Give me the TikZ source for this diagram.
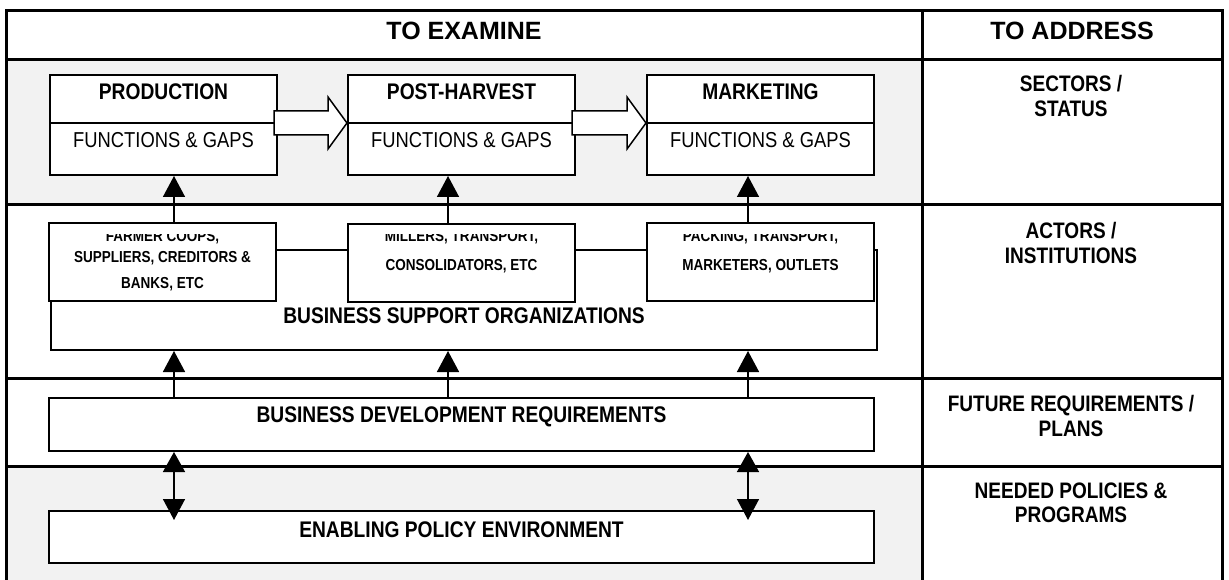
\documentclass[tikz,border=0pt]{standalone}
\usepackage{fontspec}
\setmainfont{Liberation Sans}[FakeStretch=0.85]
\newfontfamily\headfont{Liberation Sans}
\usetikzlibrary{arrows.meta,calc}
\definecolor{rowgray}{HTML}{F2F2F2}

\begin{document}
\begin{tikzpicture}[x=1pt,y=-1pt,
        frame/.style={line width=3pt},
        plainbox/.style={draw,fill=white,line width=2pt,inner sep=0pt},
        stagebox/.style={plainbox,minimum width=227pt,minimum height=100pt},
        actorbox/.style={plainbox,minimum width=227pt,minimum height=78pt},
        headtext/.style={inner sep=0pt,font=\headfont\bfseries\fontsize{25}{30}\selectfont},
        rowlabel/.style={inner sep=0pt,align=center,font=\bfseries\fontsize{22.4}{24.5}\selectfont},
        boxlabel/.style={inner sep=0pt,font=\bfseries\fontsize{22.6}{26}\selectfont},
        gaps/.style={inner sep=0pt,font=\fontsize{21.6}{26}\selectfont},
        actortext/.style={inner sep=0pt,anchor=base,font=\bfseries\fontsize{15.9}{19}\selectfont},
        uparrow/.style={line width=1.5pt,-{Triangle[length=21pt,width=22pt]}},
        updown/.style={line width=1.5pt,{Triangle[length=20pt,width=22pt]}-{Triangle[length=21pt,width=22pt]}},
        hollow/.style={draw,fill=white,line width=1.5pt}]
        \useasboundingbox (0,0) rectangle (1229,580);
        \fill[rowgray] (6,60) rectangle (922,205);
        \fill[rowgray] (6,466) rectangle (922,580);
        \draw[frame] (6,580) -- (6,11) -- (1222,11) -- (1222,580);
        \draw[frame] (922,11) -- (922,580);
        \draw[frame] (6,60) -- (1222,60);
        \draw[frame] (6,205) -- (1222,205);
        \draw[frame] (6,378) -- (1222,378);
        \draw[frame] (6,466) -- (1222,466);

        \coordinate (c1) at (174,0);
        \coordinate (c2) at (448,0);
        \coordinate (c3) at (748,0);

        \node[plainbox,minimum width=826pt,minimum height=100pt] (bso) at (464,300) {};
        \node[actorbox] (coop) at (162.5,262) {};
        \node[actorbox] (mill) at (461.5,263) {};
        \node[actorbox] (pack) at (760.5,262) {};
        \node[stagebox] (prod) at (163.5,125) {};
        \node[stagebox] (post) at (461.5,125) {};
        \node[stagebox] (mkt) at (760.5,125) {};
        \node[plainbox,minimum width=825pt,minimum height=53pt] (bdr) at (461.5,424.5) {};
        \node[plainbox,minimum width=825pt,minimum height=52pt] (epe) at (461.5,537) {};

        \draw[line width=2pt] ($(prod.west)+(0,-2)$) -- ($(prod.east)+(0,-2)$);
        \draw[line width=2pt] ($(post.west)+(0,-2)$) -- ($(post.east)+(0,-2)$);
        \draw[line width=2pt] ($(mkt.west)+(0,-2)$) -- ($(mkt.east)+(0,-2)$);

        \draw[hollow] ($(prod.east)+(-4,-14)$) -- ($(post.west)+(-19,-14)$) -- ($(post.west)+(-19,-28)$)
              -- ($(post.west)+(0,-2)$) -- ($(post.west)+(-19,24)$) -- ($(post.west)+(-19,10)$)
              -- ($(prod.east)+(-4,10)$) -- cycle;
        \draw[hollow] ($(post.east)+(-4,-14)$) -- ($(mkt.west)+(-19,-14)$) -- ($(mkt.west)+(-19,-28)$)
              -- ($(mkt.west)+(0,-2)$) -- ($(mkt.west)+(-19,24)$) -- ($(mkt.west)+(-19,10)$)
              -- ($(post.east)+(-4,10)$) -- cycle;

        \draw[uparrow] (c1 |- coop.north) -- (c1 |- prod.south);
        \draw[uparrow] (c2 |- mill.north) -- (c2 |- post.south);
        \draw[uparrow] (c3 |- pack.north) -- (c3 |- mkt.south);
        \draw[uparrow] (c1 |- bdr.north) -- (c1 |- bso.south);
        \draw[uparrow] (c2 |- bdr.north) -- (c2 |- bso.south);
        \draw[uparrow] (c3 |- bdr.north) -- (c3 |- bso.south);
        \draw[updown] (c1 |- bdr.south) -- ($(c1 |- epe.north)+(0,10)$);
        \draw[updown] (c3 |- bdr.south) -- ($(c3 |- epe.north)+(0,10)$);

        \node[headtext] (examine) at (464,31) {TO EXAMINE};
        \node[headtext] (address) at (1072,31) {TO ADDRESS};
        \node[rowlabel] (sectors) at (1071,96) {SECTORS /\\STATUS};
        \node[rowlabel] (actors) at (1071,243) {ACTORS /\\INSTITUTIONS};
        \node[rowlabel] (future) at (1071,416) {FUTURE REQUIREMENTS /\\PLANS};
        \node[rowlabel] (needed) at (1071,503) {NEEDED POLICIES \&\\PROGRAMS};

        \node[boxlabel] (prodname) at (163.5,92) {PRODUCTION};
        \node[boxlabel] (postname) at (461.5,92) {POST-HARVEST};
        \node[boxlabel] (mktname) at (760.5,92) {MARKETING};
        \node[gaps] (prodgaps) at (163.5,140) {FUNCTIONS \& GAPS};
        \node[gaps] (postgaps) at (461.5,140) {FUNCTIONS \& GAPS};
        \node[gaps] (mktgaps) at (760.5,140) {FUNCTIONS \& GAPS};

        \begin{scope}
        \clip (40,234.5) rectangle (890,300);
        \node[actortext] (cooptop) at (162.5,242) {FARMER COOPS,};
        \node[actortext] (milltop) at (461.5,242) {MILLERS, TRANSPORT,};
        \node[actortext] (packtop) at (760.5,242) {PACKING, TRANSPORT,};
        \end{scope}
        \node[actortext] (coopmid) at (162.5,262) {SUPPLIERS, CREDITORS \&};
        \node[actortext] (coopend) at (162.5,288) {BANKS, ETC};
        \node[actortext] (millend) at (461.5,270) {CONSOLIDATORS, ETC};
        \node[actortext] (packend) at (760.5,270) {MARKETERS, OUTLETS};

        \node[boxlabel] (bsoname) at (464,316) {BUSINESS SUPPORT ORGANIZATIONS};
        \node[boxlabel] (bdrname) at (461.5,417) {BUSINESS DEVELOPMENT REQUIREMENTS};
        \node[boxlabel] (epename) at (461.5,530) {ENABLING POLICY ENVIRONMENT};
\end{tikzpicture}
\end{document}
